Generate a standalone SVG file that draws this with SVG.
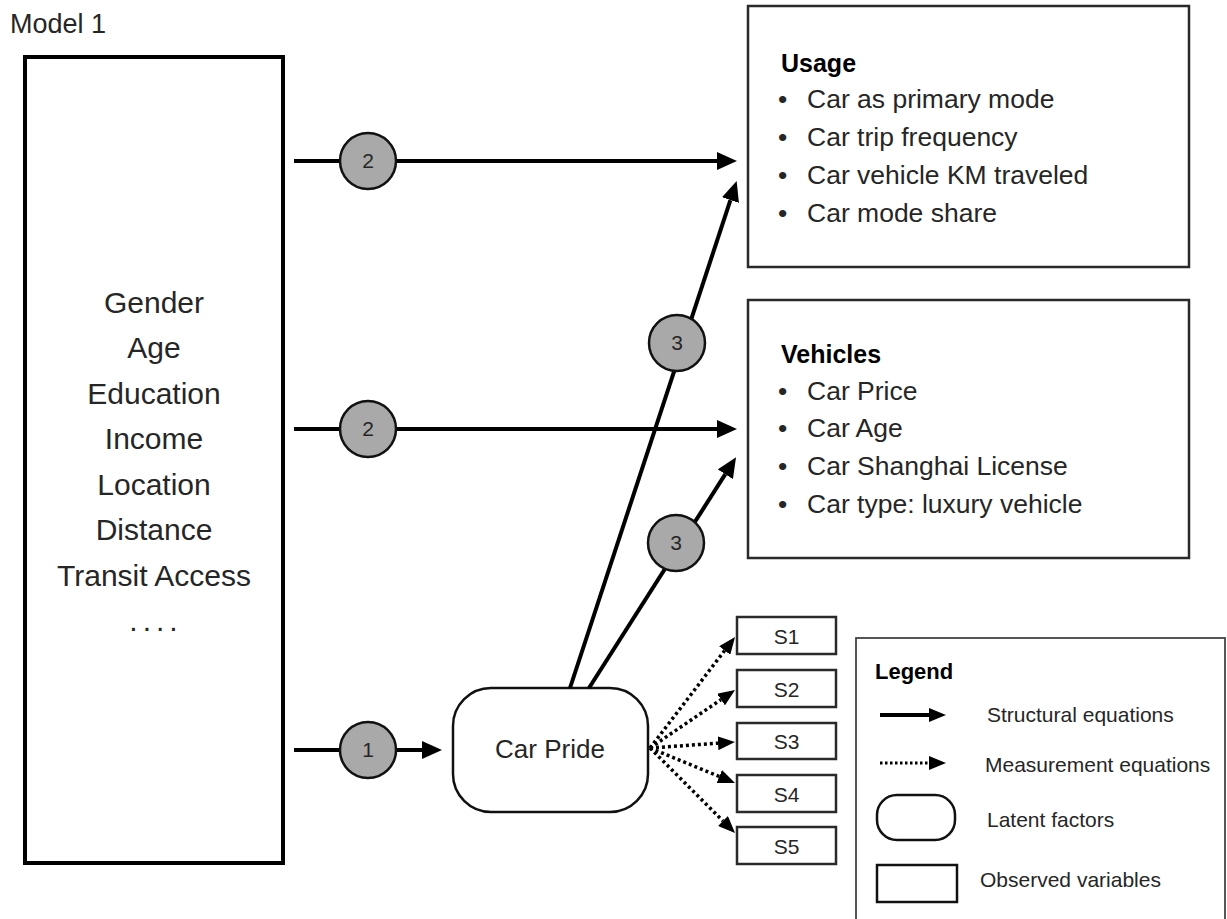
<svg xmlns="http://www.w3.org/2000/svg" width="1227" height="919" viewBox="0 0 1227 919">
  <style>
    text { font-family: "Liberation Sans", Arial, sans-serif; fill: #262626; }
    .title { font-size: 27px; }
    .var { font-size: 30px; text-anchor: middle; }
    .head { font-size: 25px; font-weight: bold; fill: #000; }
    .item { font-size: 26.5px; }
    .num { font-size: 21px; text-anchor: middle; }
    .s { font-size: 21px; text-anchor: middle; }
    .leg { font-size: 21px; }
    .leghead { font-size: 22px; font-weight: bold; fill: #000; }
    .box { fill: #fff; stroke: #2a2a2a; stroke-width: 2.5; }
    .solid { stroke: #000; stroke-width: 4; fill: none; }
    .dotted { stroke: #000; stroke-width: 3.5; stroke-dasharray: 3 3; fill: none; }
    .badge { fill: #a9a9a9; stroke: #111; stroke-width: 2.5; }
  </style>
  <defs>
    <marker id="arrow" markerUnits="userSpaceOnUse" markerWidth="20" markerHeight="18" refX="0" refY="9" orient="auto">
      <path d="M0,0 L20,9 L0,18 z" fill="#000"/>
    </marker>
    <marker id="arrow-small" markerUnits="userSpaceOnUse" markerWidth="17" markerHeight="14" refX="0" refY="7" orient="auto">
      <path d="M0,0 L17,7 L0,14 z" fill="#000"/>
    </marker>
  </defs>

  <rect width="1227" height="919" fill="#fff"/>

  <text class="title" x="10" y="33">Model 1</text>

  <!-- exogenous variables -->
  <g id="node-covariates">
    <rect x="25" y="57" width="258" height="806" fill="#fff" stroke="#000" stroke-width="4"/>
    <text class="var" x="154" y="313">Gender</text>
    <text class="var" x="154" y="358">Age</text>
    <text class="var" x="154" y="404">Education</text>
    <text class="var" x="154" y="449">Income</text>
    <text class="var" x="154" y="495">Location</text>
    <text class="var" x="154" y="540">Distance</text>
    <text class="var" x="154" y="586">Transit Access</text>
    <text class="var" x="156" y="631" letter-spacing="5">....</text>
  </g>

  <!-- outcome: usage -->
  <g id="node-usage">
    <rect class="box" x="748" y="6" width="441" height="261"/>
    <text class="head" x="781" y="72">Usage</text>
    <text class="item" x="778" y="108">•</text><text class="item" x="807" y="108">Car as primary mode</text>
    <text class="item" x="778" y="146">•</text><text class="item" x="807" y="146">Car trip frequency</text>
    <text class="item" x="778" y="184">•</text><text class="item" x="807" y="184">Car vehicle KM traveled</text>
    <text class="item" x="778" y="222">•</text><text class="item" x="807" y="222">Car mode share</text>
  </g>

  <!-- outcome: vehicles -->
  <g id="node-vehicles">
    <rect class="box" x="748" y="300" width="441" height="258"/>
    <text class="head" x="781" y="363">Vehicles</text>
    <text class="item" x="778" y="400">•</text><text class="item" x="807" y="400">Car Price</text>
    <text class="item" x="778" y="437">•</text><text class="item" x="807" y="437">Car Age</text>
    <text class="item" x="778" y="475">•</text><text class="item" x="807" y="475">Car Shanghai License</text>
    <text class="item" x="778" y="513">•</text><text class="item" x="807" y="513">Car type: luxury vehicle</text>
  </g>

  <!-- latent factor -->
  <g id="node-car-pride">
    <rect x="453" y="688" width="195" height="124" rx="38" ry="38" fill="#fff" stroke="#111" stroke-width="2.5"/>
    <text x="550" y="758" font-size="26" text-anchor="middle">Car Pride</text>
  </g>

  <!-- indicators -->
  <g id="node-s1"><rect class="box" x="737" y="617" width="99" height="37" stroke-width="2"/><text class="s" x="786.5" y="644">S1</text></g>
  <g id="node-s2"><rect class="box" x="737" y="670" width="99" height="37" stroke-width="2"/><text class="s" x="786.5" y="697">S2</text></g>
  <g id="node-s3"><rect class="box" x="737" y="723" width="99" height="36" stroke-width="2"/><text class="s" x="786.5" y="749">S3</text></g>
  <g id="node-s4"><rect class="box" x="737" y="775" width="99" height="37" stroke-width="2"/><text class="s" x="786.5" y="802">S4</text></g>
  <g id="node-s5"><rect class="box" x="737" y="827" width="99" height="37" stroke-width="2"/><text class="s" x="786.5" y="854">S5</text></g>

  <!-- paths -->
  <g id="connectors">
    <line class="solid" x1="294" y1="161" x2="717" y2="161" marker-end="url(#arrow)"/>
    <line class="solid" x1="294" y1="429" x2="717" y2="429" marker-end="url(#arrow)"/>
    <line class="solid" x1="294" y1="750" x2="422" y2="750" marker-end="url(#arrow)"/>
    <line class="solid" x1="570" y1="688" x2="730.4" y2="200.1" marker-end="url(#arrow)"/>
    <line class="solid" x1="589" y1="688" x2="725.3" y2="474.2" marker-end="url(#arrow)"/>

    <line class="dotted" x1="650" y1="748" x2="724.7" y2="650.5" marker-end="url(#arrow-small)"/>
    <line class="dotted" x1="650" y1="748" x2="721" y2="699.6" marker-end="url(#arrow-small)"/>
    <line class="dotted" x1="650" y1="748" x2="718" y2="743.2" marker-end="url(#arrow-small)"/>
    <line class="dotted" x1="650" y1="748" x2="719.3" y2="776.5" marker-end="url(#arrow-small)"/>
    <line class="dotted" x1="650" y1="748" x2="723" y2="821" marker-end="url(#arrow-small)"/>
  </g>

  <!-- path labels -->
  <g id="badge-2-usage"><circle class="badge" cx="368" cy="161" r="28"/><text class="num" x="368" y="168">2</text></g>
  <g id="badge-2-vehicles"><circle class="badge" cx="368" cy="429" r="28"/><text class="num" x="368" y="436">2</text></g>
  <g id="badge-1"><circle class="badge" cx="368" cy="750" r="28"/><text class="num" x="368" y="757">1</text></g>
  <g id="badge-3-usage"><circle class="badge" cx="677" cy="343" r="28"/><text class="num" x="677" y="350">3</text></g>
  <g id="badge-3-vehicles"><circle class="badge" cx="676" cy="543" r="28"/><text class="num" x="676" y="550">3</text></g>

  <!-- legend -->
  <g id="legend">
    <rect x="856" y="638" width="369" height="300" fill="#fff" stroke="#444" stroke-width="1.8"/>
    <text class="leghead" x="875" y="679">Legend</text>
    <line class="solid" x1="880" y1="715" x2="929" y2="715" marker-end="url(#arrow-small)"/>
    <text class="leg" x="987" y="722">Structural equations</text>
    <line x1="880" y1="763" x2="929" y2="763" stroke="#000" stroke-width="3" stroke-dasharray="2.5 2.5" marker-end="url(#arrow-small)"/>
    <text class="leg" x="985" y="772">Measurement equations</text>
    <rect x="877" y="795" width="78" height="45" rx="20" ry="20" fill="#fff" stroke="#111" stroke-width="2.5"/>
    <text class="leg" x="987" y="827">Latent factors</text>
    <rect x="877" y="865" width="80" height="37" fill="#fff" stroke="#111" stroke-width="2.5"/>
    <text class="leg" x="980" y="887">Observed variables</text>
  </g>
</svg>
